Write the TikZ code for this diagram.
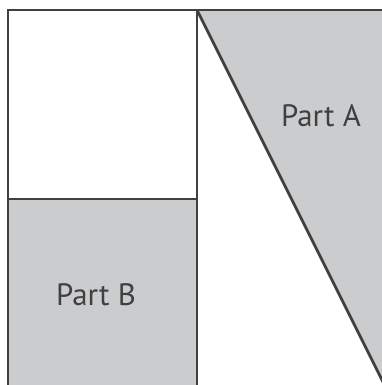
\documentclass[tikz,border=0pt]{standalone}
\usepackage{fontspec}
\setmainfont{PT Sans}
\definecolor{edge}{HTML}{404040}
\definecolor{partfill}{HTML}{CBCCCE}
\tikzset{
  piece/.style={draw=edge, line width=2.8bp, line join=miter},
  partlabel/.style={text=edge, font=\fontsize{31}{34}\selectfont}
}
\begin{document}
\begin{tikzpicture}[x=1bp, y=-1bp]
  \useasboundingbox (0,0) rectangle (382,385);
  \clip (0,0) rectangle (382,385);
  % grey parts
  \fill[partfill] (197,10) -- (400,10) -- (400,400) -- (392,400) -- cycle;
  \fill[partfill] (8,199) rectangle (197,400);
  % outline and cuts
  \draw[piece] (8,400) -- (8,10) -- (400,10);
  \draw[piece] (197,10) -- (197,400);
  \draw[piece] (8,199) -- (197,199);
  \draw[piece] (197,10) -- (392,400);
  % labels
  \node[partlabel] (partA) at (321,116) {Part A};
  \node[partlabel] (partB) at (96,295) {Part B};
\end{tikzpicture}
\end{document}
